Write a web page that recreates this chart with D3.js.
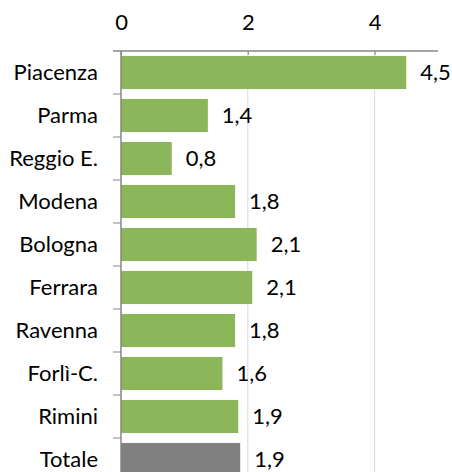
<!DOCTYPE html>
<html>
<head>
<meta charset="utf-8">
<script src="https://cdn.jsdelivr.net/npm/d3@7"></script>
<style>
  body { margin: 0; background: #fff; }
  text { font-family: Lato, "Open Sans", sans-serif; fill: #000; }
</style>
</head>
<body>
<div id="chart"></div>
<script>
// Provinces (top to bottom) and bar values
var categories = ['Piacenza', 'Parma', 'Reggio E.', 'Modena', 'Bologna', 'Ferrara', 'Ravenna', 'Forlì-C.', 'Rimini', 'Totale'];
var values = [4.5, 1.37, 0.8, 1.8, 2.14, 2.07, 1.8, 1.6, 1.85, 1.88];
var labels = ['4,5', '1,4', '0,8', '1,8', '2,1', '2,1', '1,8', '1,6', '1,9', '1,9'];
var tickValues = [0, 2, 4];

var width = 452, height = 472;
var margin = { top: 51, left: 121, right: 14 };
var step = 43;
var fontSize = '22px';

var svg = d3.select('#chart').append('svg')
    .attr('width', width)
    .attr('height', height);

var x = d3.scaleLinear().domain([0, 5]).range([margin.left, width - margin.right]);
var y = d3.scaleBand().domain(categories)
    .range([margin.top, margin.top + step * categories.length])
    .paddingInner(0.23).paddingOuter(0.115);

// vertical gridlines
svg.selectAll('line.grid')
    .data(tickValues.filter(function(d) { return d > 0; }))
    .enter().append('line')
    .attr('class', 'grid')
    .attr('x1', function(d) { return x(d); })
    .attr('x2', function(d) { return x(d); })
    .attr('y1', margin.top)
    .attr('y2', height)
    .style('stroke', '#d9d9d9')
    .style('stroke-width', 1);

// bars
svg.selectAll('rect.bar')
    .data(categories)
    .enter().append('rect')
    .attr('class', 'bar')
    .attr('x', x(0))
    .attr('y', function(d) { return y(d); })
    .attr('width', function(d, i) { return x(values[i]) - x(0); })
    .attr('height', y.bandwidth())
    .style('fill', function(d) { return d === 'Totale' ? '#808080' : '#8cb65a'; });

// value labels
svg.selectAll('text.val')
    .data(categories)
    .enter().append('text')
    .attr('class', 'val')
    .attr('x', function(d, i) { return x(values[i]) + 14; })
    .attr('y', function(d) { return y(d) + y.bandwidth() / 2; })
    .attr('dy', '0.36em')
    .style('font-size', fontSize)
    .text(function(d, i) { return labels[i]; });

// top axis
var xAxis = d3.axisTop(x).tickValues(tickValues).tickSize(6).tickSizeOuter(0)
    .tickFormat(d3.format('d'));
var gx = svg.append('g')
    .attr('transform', 'translate(0,' + margin.top + ')')
    .call(xAxis);
gx.select('.domain').attr('d', 'M' + (x(0) - 8) + ',0H' + x(5)).style('stroke', '#868686').style('stroke-width', 1.5);
gx.selectAll('.tick line').attr('y2', 4).attr('y1', 0).style('stroke', '#868686');
gx.selectAll('.tick text')
    .attr('y', -21)
    .style('font-size', fontSize)
    .style('font-family', 'Lato, sans-serif');

// left axis
var bounds = d3.range(categories.length).map(function(i) { return margin.top + step * (i + 1); });
svg.append('line')
    .attr('x1', x(0)).attr('x2', x(0))
    .attr('y1', margin.top).attr('y2', height)
    .style('stroke', '#868686').style('stroke-width', 1.5);
svg.selectAll('line.ytick')
    .data(bounds)
    .enter().append('line')
    .attr('class', 'ytick')
    .attr('x1', x(0) - 8).attr('x2', x(0))
    .attr('y1', function(d) { return d; }).attr('y2', function(d) { return d; })
    .style('stroke', '#868686');

svg.selectAll('text.cat')
    .data(categories)
    .enter().append('text')
    .attr('class', 'cat')
    .attr('x', 98)
    .attr('y', function(d) { return y(d) + y.bandwidth() / 2; })
    .attr('dy', '0.36em')
    .attr('text-anchor', 'end')
    .style('font-size', fontSize)
    .text(function(d) { return d; });
</script>
</body>
</html>
